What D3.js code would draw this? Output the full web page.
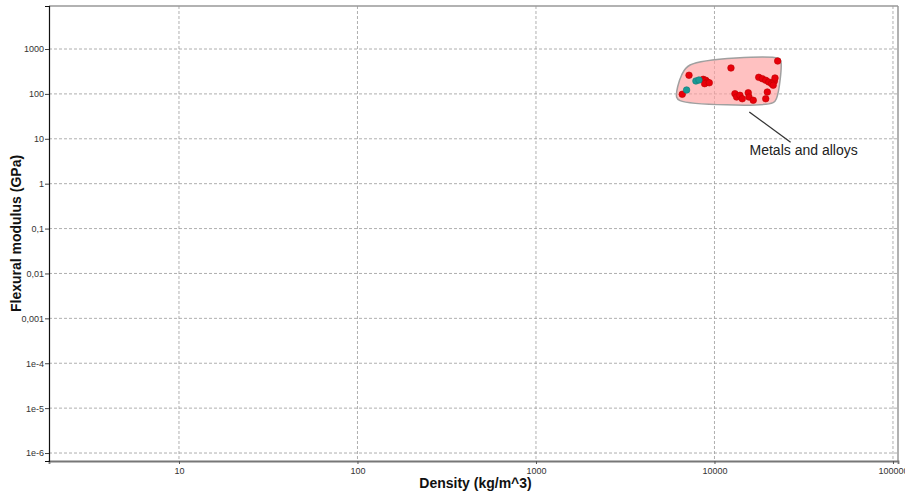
<!DOCTYPE html>
<html>
<head>
<meta charset="utf-8">
<script src="https://cdn.jsdelivr.net/npm/d3@7"></script>
<style>
  body { margin: 0; background: #fff; }
  #graf { width: 905px; height: 495px; }
  .ejes text { font-family: "Liberation Sans", Arial, sans-serif; font-size: 9px; fill: #333; }
  .titulo { font-family: "Liberation Sans", Arial, sans-serif; font-size: 14px; font-weight: bold; fill: #111; }
</style>
</head>
<body>
<div id="graf"></div>
<script>
// datos (densidad kg/m^3, modulo GPa)
const metalDensity = [7200, 6600, 8650, 8930, 9120, 8810, 9350, 12370, 22600, 17700, 18540, 19370, 20140, 20910, 21630, 21830, 21330, 19770, 19370, 13020, 13310, 13890, 14310, 15460, 15600, 16490]
const metalModulus = [260, 98, 211, 201, 184, 169, 177, 378, 540, 234, 218, 201, 184, 169, 191, 226, 156, 110, 78, 101, 85, 93, 78, 106, 85, 72]
const otherDensity = [7870, 8190, 6980]
const otherModulus = [194, 204, 122]
const envDensity = [6550, 7300, 22760, 23490, 22280, 21320, 6410, 6140]
const envModulus = [264, 440, 621, 550, 80, 64, 71, 84]
const xTicks = [10, 100, 1000, 10000, 100000]
const xTickLabels = ['10', '100', '1000', '10000', '100000']
const yTicks = [1000, 100, 10, 1, 0.1, 0.01, 0.001, 1e-4, 1e-5, 1e-6]
const yTickLabels = ['1000', '100', '10', '1', '0,1', '0,01', '0,001', '1e-4', '1e-5', '1e-6']
const groupLabel = 'Metals and alloys'
const leader = [[15670, 39.5], [26700, 8.36]]

const anchoTotal = 905
const altoTotal = 495
const margin = { top: 6, bottom: 34, left: 49, right: 7 }
const ancho = anchoTotal - margin.left - margin.right
const alto = altoTotal - margin.top - margin.bottom

const svg = d3.select('#graf').append('svg')
  .attr('width', anchoTotal)
  .attr('height', altoTotal)

const g = svg.append('g')
  .attr('transform', `translate(${margin.left}, ${margin.top})`)

const x = d3.scaleLog().domain([1.87, 106700]).range([0, ancho])
const y = d3.scaleLog().domain([6.64e-7, 9080]).range([alto, 0])

// minor ticks 2..9 per decade
const minor = (lo, hi) => {
  const out = []
  for (let e = lo; e <= hi; e++) for (let k = 1; k <= 9; k++) out.push(k * Math.pow(10, e))
  return out
}
const xMinor = minor(0, 5).filter(v => v >= x.domain()[0] && v <= x.domain()[1])
const yMinor = minor(-7, 3).filter(v => v >= y.domain()[0] && v <= y.domain()[1])

// grid
g.append('g').selectAll('line').data(xTicks).join('line')
  .attr('x1', d => x(d)).attr('x2', d => x(d))
  .attr('y1', 0).attr('y2', alto)
  .attr('stroke', '#9a9a9a').attr('stroke-dasharray', '3,2').attr('stroke-width', 0.8)
g.append('g').selectAll('line').data(yTicks).join('line')
  .attr('x1', 0).attr('x2', ancho)
  .attr('y1', d => y(d)).attr('y2', d => y(d))
  .attr('stroke', '#9a9a9a').attr('stroke-dasharray', '3,2').attr('stroke-width', 0.8)

// frame
g.append('line').attr('x1', 0).attr('x2', ancho).attr('y1', 0).attr('y2', 0)
  .attr('stroke', '#999').attr('stroke-width', 1.5)
g.append('line').attr('x1', ancho).attr('x2', ancho).attr('y1', 0).attr('y2', alto)
  .attr('stroke', '#999').attr('stroke-width', 1.5)

// ejes
const xAxisGroup = g.append('g').attr('class', 'ejes')
  .attr('transform', `translate(0, ${alto})`)
xAxisGroup.call(d3.axisBottom(x).tickValues(xMinor).tickSize(3).tickFormat(''))
xAxisGroup.call(d3.axisBottom(x).tickValues(xTicks).tickSize(3).tickPadding(4)
  .tickFormat((d, i) => xTickLabels[i]))
xAxisGroup.selectAll('.domain').attr('stroke', '#777').attr('stroke-width', 1.8)
xAxisGroup.selectAll('.tick line').attr('stroke', '#555')

const yAxisGroup = g.append('g').attr('class', 'ejes')
yAxisGroup.call(d3.axisLeft(y).tickValues(yMinor).tickSize(2.5).tickFormat(''))
yAxisGroup.call(d3.axisLeft(y).tickValues(yTicks).tickSize(4).tickPadding(1)
  .tickFormat((d, i) => yTickLabels[i]))
yAxisGroup.selectAll('.domain').attr('stroke', '#111').attr('stroke-width', 1.2)
yAxisGroup.selectAll('.tick line').attr('stroke', '#444')

// envelope
const env = envDensity.map((d, i) => [x(d), y(envModulus[i])])
g.append('path')
  .attr('d', d3.line().curve(d3.curveCatmullRomClosed.alpha(0.5))(env))
  .attr('fill', '#ff9f9f').attr('fill-opacity', 0.65)
  .attr('stroke', '#a0a0a0').attr('stroke-width', 1.5)

// puntos
g.append('g').selectAll('circle').data(metalDensity).join('circle')
  .attr('cx', d => x(d))
  .attr('cy', (d, i) => y(metalModulus[i]))
  .attr('r', 3.3)
  .attr('fill', '#e8000b')
  .attr('stroke', '#c00000').attr('stroke-width', 0.6)
g.append('g').selectAll('circle').data(otherDensity).join('circle')
  .attr('cx', d => x(d))
  .attr('cy', (d, i) => y(otherModulus[i]))
  .attr('r', 3.3)
  .attr('fill', '#1a9a96')
  .attr('stroke', '#127a76').attr('stroke-width', 0.6)

// etiqueta
g.append('line')
  .attr('x1', x(leader[0][0])).attr('y1', y(leader[0][1]))
  .attr('x2', x(leader[1][0])).attr('y2', y(leader[1][1]))
  .attr('stroke', '#333').attr('stroke-width', 1.3)
g.append('text')
  .attr('x', x(leader[1][0]) + 13).attr('y', y(leader[1][1]) + 13)
  .attr('text-anchor', 'middle')
  .attr('font-family', '"Liberation Sans", Arial, sans-serif')
  .attr('font-size', 14).attr('fill', '#222')
  .text(groupLabel)

// titulos
svg.append('text').attr('class', 'titulo')
  .attr('text-anchor', 'middle')
  .attr('x', margin.left + ancho / 2 + 2).attr('y', 488)
  .text('Density (kg/m^3)')
svg.append('text').attr('class', 'titulo')
  .attr('text-anchor', 'middle')
  .attr('transform', `translate(21, ${margin.top + alto / 2}) rotate(-90)`)
  .text('Flexural modulus (GPa)')
</script>
</body>
</html>
